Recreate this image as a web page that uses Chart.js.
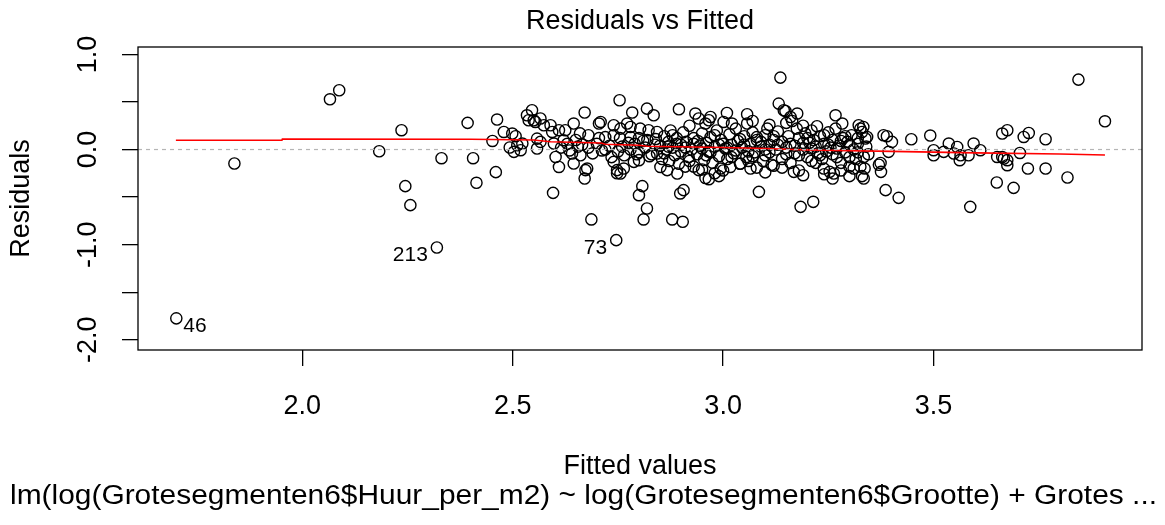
<!DOCTYPE html>
<html>
<head>
<meta charset="utf-8">
<script src="https://cdn.jsdelivr.net/npm/chart.js@4.4.0/dist/chart.umd.min.js"></script>
<style>
body{margin:0;background:#fff}
#wrap{width:1165px;height:525px}
</style>
</head>
<body>
<div id="wrap"><canvas id="grafico" width="1165" height="525"></canvas></div>
<script>
// valores (fitted x residuals)
var fitted = [
  1.701,1.839,2.066,2.088,2.183,2.236,2.245,2.257,2.320,2.331,
  2.393,2.406,2.414,2.452,2.460,2.463,2.479,2.493,2.499,2.503,
  2.507,2.511,2.519,2.523,2.534,2.538,2.546,2.550,2.554,2.558,
  2.558,2.566,2.566,2.574,2.590,2.594,2.596,2.598,2.602,2.610,
  2.610,2.621,2.625,2.641,2.645,2.645,2.661,2.660,2.671,2.671,
  2.673,2.677,2.680,2.687,2.705,2.705,2.709,2.720,2.740,2.740,
  2.740,2.746,2.748,2.748,2.754,2.755,2.756,2.756,2.764,2.772,
  2.780,2.780,2.784,2.788,2.800,2.800,2.800,2.803,2.808,2.811,
  2.819,2.819,2.820,2.823,2.835,2.840,2.843,2.843,2.851,2.867,
  2.879,2.891,2.895,2.898,2.904,2.906,2.615,2.630,2.635,2.650,
  2.655,2.665,2.680,2.690,2.700,2.712,2.720,2.730,2.735,2.750,
  2.760,2.765,2.775,2.780,2.790,2.795,2.800,2.810,2.815,2.825,
  2.830,2.838,2.850,2.855,2.860,2.865,2.870,2.872,2.875,2.880,
  2.885,2.890,2.895,2.900,2.900,2.905,2.910,2.912,2.918,2.920,
  2.925,2.930,2.930,2.934,2.938,2.942,2.942,2.945,2.950,2.950,
  2.955,2.958,2.958,2.960,2.965,2.966,2.966,2.970,2.970,2.975,
  2.980,2.980,2.985,2.990,2.994,2.995,3.000,3.001,3.005,3.009,
  3.010,3.015,3.017,3.020,3.021,3.025,3.030,3.035,3.040,3.041,
  3.045,3.050,3.055,3.057,3.057,3.060,3.065,3.065,3.070,3.075,
  3.080,3.080,3.085,3.090,3.095,3.100,3.100,3.105,3.110,3.115,
  3.120,3.120,3.125,3.130,3.132,3.136,3.140,3.140,3.144,3.148,
  3.150,3.155,3.160,3.160,3.164,3.168,3.170,3.175,3.176,3.180,
  3.180,3.184,3.190,3.190,3.195,3.200,3.205,3.210,3.214,3.215,
  3.220,3.223,3.225,3.230,3.235,3.239,3.240,3.245,3.250,3.253,
  3.255,3.260,3.260,3.263,3.267,3.267,3.270,3.275,3.280,3.283,
  3.285,3.290,3.295,3.300,3.305,3.310,3.315,3.320,3.322,3.326,
  3.326,3.330,3.330,3.333,3.334,3.334,3.336,3.338,3.340,3.342,
  3.345,3.370,3.374,3.375,3.381,3.386,3.389,3.393,3.401,3.417,
  3.447,3.492,3.500,3.500,3.524,3.536,3.548,3.556,3.562,3.564,
  3.583,3.587,3.595,3.611,3.650,3.651,3.663,3.663,3.667,3.675,
  3.675,3.675,3.690,3.705,3.714,3.724,3.726,3.766,3.766,3.818,
  3.844,3.907,2.880,2.920,2.940,2.960,2.980,3.000,3.020,3.040,
  3.060,3.080,3.100,3.120,3.140,3.160,3.180,3.200,3.220,3.240,
  3.260,3.280,3.300,3.320,3.280,3.300,3.240,3.190,3.150,3.110,
  3.070,2.990,2.860,2.870,2.890,2.910,2.930,2.950,2.970,2.990,
  3.010,3.030,3.050,3.070,3.090,3.110,3.130,3.150,3.170,3.190,
  3.210,3.230,3.250,3.270,3.290,3.310,3.320,3.300,3.210,3.100
]

var residuos = [
  -1.775,-0.147,0.528,0.623,-0.018,0.203,-0.385,-0.585,-1.030,-0.091,
  0.280,-0.091,-0.350,0.090,-0.238,0.315,0.185,0.021,0.168,-0.025,
  0.140,0.045,-0.007,0.063,0.360,0.308,0.413,0.308,0.290,0.115,
  0.010,0.326,0.080,0.255,0.255,0.185,-0.456,0.063,-0.078,0.203,
  -0.183,0.098,0.203,-0.042,0.273,-0.147,-0.060,0.170,0.389,-0.305,
  -0.217,-0.200,0.150,-0.735,0.273,0.120,0.290,0.130,0.255,0.150,
  -0.130,-0.953,-0.217,-0.250,0.518,0.120,0.220,-0.252,-0.200,0.273,
  0.237,0.130,0.389,-0.130,0.120,-0.112,-0.480,0.220,-0.385,-0.735,
  0.430,-0.620,0.100,0.203,0.360,0.110,0.185,-0.042,-0.183,-0.217,
  -0.735,-0.252,0.423,-0.462,-0.760,-0.427,0.020,0.060,-0.010,0.100,
  0.030,0.050,0.020,-0.040,0.060,-0.010,0.000,0.040,-0.080,-0.020,
  0.030,-0.060,0.070,0.000,0.060,-0.050,-0.030,0.090,0.020,-0.070,
  -0.050,0.050,0.040,-0.100,0.140,0.000,0.080,-0.120,0.200,0.020,
  -0.060,0.120,-0.150,0.050,-0.020,0.180,-0.180,0.080,-0.080,0.250,
  0.000,-0.180,0.120,0.378,-0.050,0.326,-0.217,0.040,-0.210,0.170,
  -0.110,0.273,-0.300,0.070,-0.020,0.308,-0.312,0.342,0.130,-0.140,
  -0.250,0.030,0.200,-0.070,-0.200,0.100,-0.220,0.290,0.010,0.384,
  -0.100,0.160,-0.183,0.050,0.273,-0.040,0.220,0.090,-0.150,-0.147,
  0.020,0.140,-0.080,0.371,0.273,-0.120,-0.200,0.060,0.180,-0.030,
  -0.190,0.100,-0.445,0.030,-0.120,0.150,-0.060,0.220,0.050,-0.160,
  0.100,-0.170,0.000,0.190,0.483,0.756,-0.190,0.080,0.413,0.405,
  -0.050,0.140,0.342,-0.140,0.300,-0.235,0.040,0.220,0.378,-0.220,
  0.120,-0.603,-0.270,0.000,0.170,-0.080,0.070,-0.120,-0.550,0.100,
  0.030,0.245,-0.040,0.140,-0.100,-0.200,0.060,-0.020,0.180,-0.235,
  0.020,-0.305,0.100,-0.252,0.360,0.220,-0.080,0.040,-0.140,0.273,
  0.120,-0.030,0.080,-0.180,0.150,0.000,-0.100,0.060,0.255,0.220,
  -0.180,-0.280,0.185,0.237,-0.305,-0.078,-0.200,0.116,0.030,0.132,
  -0.050,-0.160,-0.141,-0.235,0.150,-0.427,0.140,-0.025,0.080,-0.508,
  0.108,0.147,-0.007,-0.060,-0.025,0.063,-0.042,0.027,-0.112,-0.060,
  -0.060,-0.603,0.063,-0.007,-0.347,-0.078,-0.078,0.168,-0.095,0.203,
  -0.112,-0.165,-0.403,-0.036,0.132,-0.200,0.174,0.108,-0.200,-0.294,
  0.735,0.297,0.150,-0.120,0.090,-0.060,0.150,0.060,-0.080,0.110,
  -0.020,0.130,0.000,0.140,-0.100,0.060,-0.060,0.120,-0.140,0.150,
  -0.050,0.090,-0.080,0.120,-0.220,-0.280,-0.260,0.250,0.280,0.260,
  0.300,-0.280,-0.040,0.030,0.060,0.020,0.060,0.010,-0.030,0.050,
  0.020,-0.010,0.050,-0.070,0.080,-0.030,0.050,0.020,-0.040,0.070,
  0.010,-0.060,0.050,0.010,0.140,-0.200,-0.030,0.050,0.200,-0.240
]

// linha vermelha (suavizacao)
var suaveX = [1.700, 1.952, 1.953, 2.400, 2.550, 2.590, 2.710, 2.720, 2.800, 2.820, 3.000, 3.100, 3.200, 3.400, 3.600, 3.800, 3.907]
var suaveY = [0.098, 0.099, 0.111, 0.108, 0.100, 0.082, 0.068, 0.056, 0.045, 0.035, 0.022, 0.010, -0.005, -0.020, -0.035, -0.047, -0.057]

var xTicks = [2.0, 2.5, 3.0, 3.5]
var yTicks = [-2.0, -1.5, -1.0, -0.5, 0.0, 0.5, 1.0]
var yTickLabels = ['-2.0', '', '-1.0', '', '0.0', '', '1.0']

// pontos identificados
var idLabels = ['46', '213', '73']
var idX = [1.701, 2.320, 2.746]
var idY = [-1.775, -1.030, -0.953]

var titulo = 'Residuals vs Fitted'
var tituloX = 'Fitted values'
var tituloY = 'Residuals'
var subtitulo = 'lm(log(Grotesegmenten6$Huur_per_m2) ~ log(Grotesegmenten6$Grootte) + Grotes ...'

var fonte = '"Liberation Sans", Arial, sans-serif'

var pontos = fitted.map(function(x, i) {
  return { x: x, y: residuos[i] }
})
var suave = suaveX.map(function(x, i) {
  return { x: x, y: suaveY[i] }
})

var xMin = 1.61, xMax = 3.995
var yMin = -2.108, yMax = 1.078

// textos e caixa no estilo do R
var textosR = {
  id: 'textosR',
  afterDraw: function(chart) {
    var ctx = chart.ctx
    var area = chart.chartArea
    var sx = chart.scales.x
    var sy = chart.scales.y
    var meio = (area.left + area.right) / 2
    ctx.save()
    ctx.strokeStyle = '#000'
    ctx.lineWidth = 1.3
    ctx.strokeRect(area.left, area.top, area.right - area.left, area.bottom - area.top)

    ctx.fillStyle = '#000'
    ctx.font = '27px ' + fonte
    ctx.textAlign = 'center'
    ctx.textBaseline = 'middle'
    ctx.fillText(titulo, meio, 22)
    ctx.fillText(tituloX, meio, 467)

    yTicks.forEach(function(v, i) {
      if (!yTickLabels[i]) return
      ctx.save()
      ctx.translate(89, sy.getPixelForValue(v))
      ctx.rotate(-Math.PI / 2)
      ctx.fillText(yTickLabels[i], 0, 0)
      ctx.restore()
    })

    ctx.save()
    ctx.translate(22, (area.top + area.bottom) / 2)
    ctx.rotate(-Math.PI / 2)
    ctx.fillText(tituloY, 0, 0)
    ctx.restore()

    // subtitulo esticado na largura (como no original)
    var larg = ctx.measureText(subtitulo).width
    ctx.save()
    ctx.translate(10, 497)
    ctx.scale(1147 / larg, 1)
    ctx.textAlign = 'left'
    ctx.fillText(subtitulo, 0, 0)
    ctx.restore()

    // rotulos dos pontos
    ctx.font = '21px ' + fonte
    idLabels.forEach(function(t, i) {
      var px = sx.getPixelForValue(idX[i])
      var py = sy.getPixelForValue(idY[i])
      if (i === 0) {
        ctx.textAlign = 'left'
        ctx.fillText(t, px + 7, py + 8)
      } else {
        ctx.textAlign = 'right'
        ctx.fillText(t, px - 9, py + 8)
      }
    })
    ctx.restore()
  }
}

var ctx = document.getElementById('grafico').getContext('2d')
var grafico = new Chart(ctx, {
  type: 'scatter',
  data: {
    datasets: [{
      type: 'line',
      data: [{ x: xMin, y: 0 }, { x: xMax, y: 0 }],
      borderColor: '#b5b5b5',
      borderWidth: 1.2,
      borderDash: [4, 4],
      pointRadius: 0,
      fill: false
    },
    {
      type: 'line',
      data: suave,
      borderColor: '#ff0000',
      borderWidth: 1.6,
      pointRadius: 0,
      tension: 0,
      fill: false
    },
    {
      data: pontos,
      pointStyle: 'circle',
      pointRadius: 5.6,
      borderWidth: 1.4,
      borderColor: '#000',
      backgroundColor: 'rgba(0,0,0,0)'
    }]
  },
  options: {
    responsive: false,
    animation: false,
    layout: {
      padding: { left: 0, right: 23, top: 47, bottom: 0 }
    },
    plugins: {
      legend: { display: false },
      tooltip: { enabled: false }
    },
    scales: {
      x: {
        type: 'linear',
        min: xMin,
        max: xMax,
        afterBuildTicks: function(s) {
          s.ticks = xTicks.map(function(v) { return { value: v } })
        },
        afterFit: function(s) { s.height = 175 },
        border: { display: false },
        grid: { drawOnChartArea: false, drawTicks: true, tickLength: 16, color: '#000', lineWidth: 1.3 },
        ticks: {
          color: '#000',
          padding: 24,
          maxRotation: 0,
          autoSkip: false,
          font: { family: fonte, size: 27 },
          callback: function(v) { return v.toFixed(1) }
        }
      },
      y: {
        type: 'linear',
        min: yMin,
        max: yMax,
        afterBuildTicks: function(s) {
          s.ticks = yTicks.map(function(v) { return { value: v } })
        },
        afterFit: function(s) { s.width = 138 },
        border: { display: false },
        grid: { drawOnChartArea: false, drawTicks: true, tickLength: 16, color: '#000', lineWidth: 1.3 },
        ticks: { display: false }
      }
    }
  },
  plugins: [textosR]
})
</script>
</body>
</html>
